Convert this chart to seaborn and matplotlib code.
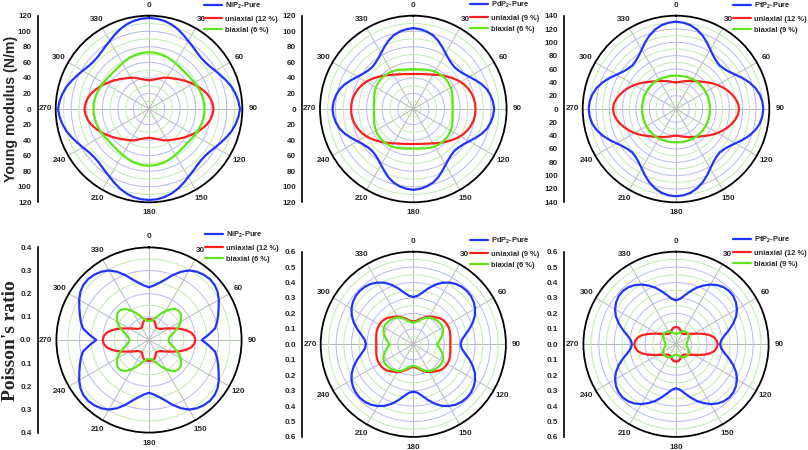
import numpy as np
import pandas as pd
import matplotlib
matplotlib.use("Agg")
import matplotlib.pyplot as plt
import seaborn as sns
from matplotlib.ticker import MultipleLocator, FixedLocator, FuncFormatter

# ---------------- data ----------------
# angles of one quadrant (deg); curves are mirror-symmetric about 0-180 and 90-270
ANG = [0, 5, 10, 15, 20, 25, 30, 35, 40, 45, 50, 55, 60, 65, 70, 75, 80, 85, 90]

# Young modulus (N/m)
NIP2_E_PURE = [117, 116.5, 115, 112.5, 109, 105, 101, 98, 95.5, 94, 94, 95.5, 98.5, 102, 106, 110, 113, 115.5, 117]
NIP2_E_UNI = [37, 37.5, 38.5, 40, 42, 44.5, 46.5, 48.5, 51, 54, 57.5, 61, 65, 69, 73, 77, 80, 82, 83]
NIP2_E_BI = [73, 72.8, 72.3, 71.5, 70.5, 69.3, 68, 67, 66.3, 66, 66.2, 66.8, 67.6, 68.5, 69.5, 70.3, 71, 71.4, 71.5]

PDP2_E_PURE = [104, 103, 101, 98, 93.5, 88, 83, 79, 76.5, 75.5, 76.5, 79, 83, 88, 93.5, 98, 101, 103, 104]
PDP2_E_UNI = [45, 45.2, 45.7, 46.5, 47.5, 49, 51, 53.5, 56.5, 59.5, 63, 66.5, 70, 73, 75.5, 77.5, 79, 79.8, 80]
PDP2_E_BI = [51, 51.2, 51.7, 52.5, 53.5, 54.6, 55.5, 56.2, 56.6, 56.8, 56.6, 56.2, 55.5, 54.5, 53.4, 52.3, 51.4, 50.9, 50.7]

PTP2_E_PURE = [131, 130, 127.5, 123, 117, 110, 103, 97.5, 94, 92.5, 94, 97.5, 103, 110, 117, 123, 127.5, 130, 131]
PTP2_E_UNI = [40, 40.3, 41.5, 43, 44.5, 46.5, 48.5, 51, 54, 57.5, 62, 67, 72, 77, 82, 86.5, 90.5, 93.5, 94.5]
PTP2_E_BI = [50, 50, 50.2, 50.4, 50.7, 51, 51.3, 51.5, 51.6, 51.6, 51.6, 51.5, 51.4, 51.3, 51.2, 51.1, 51, 51, 51]

# Poisson's ratio
NIP2_V_PURE = [0.228, 0.236, 0.25, 0.27, 0.298, 0.325, 0.347, 0.36, 0.368, 0.372, 0.37, 0.362, 0.348, 0.332, 0.318, 0.305, 0.29, 0.258, 0.228]
NIP2_V_UNI = [0.09, 0.09, 0.088, 0.085, 0.078, 0.068, 0.062, 0.062, 0.064, 0.068, 0.075, 0.087, 0.1, 0.118, 0.142, 0.165, 0.185, 0.196, 0.2]
NIP2_V_BI = [0.082, 0.083, 0.088, 0.097, 0.11, 0.127, 0.145, 0.162, 0.175, 0.18, 0.178, 0.17, 0.158, 0.142, 0.124, 0.107, 0.094, 0.087, 0.085]

PDP2_V_PURE = [0.307, 0.315, 0.34, 0.375, 0.41, 0.44, 0.462, 0.478, 0.487, 0.49, 0.487, 0.478, 0.462, 0.44, 0.41, 0.375, 0.34, 0.315, 0.307]
PDP2_V_UNI = [0.147, 0.15, 0.158, 0.17, 0.182, 0.196, 0.208, 0.218, 0.228, 0.24, 0.248, 0.252, 0.254, 0.254, 0.252, 0.248, 0.244, 0.241, 0.24]
PDP2_V_BI = [0.14, 0.143, 0.15, 0.162, 0.176, 0.19, 0.2, 0.208, 0.213, 0.217, 0.22, 0.221, 0.219, 0.213, 0.203, 0.19, 0.176, 0.164, 0.155]

PTP2_V_PURE = [0.285, 0.295, 0.322, 0.355, 0.39, 0.42, 0.447, 0.468, 0.482, 0.488, 0.485, 0.474, 0.456, 0.43, 0.395, 0.355, 0.318, 0.294, 0.285]
PTP2_V_UNI = [0.112, 0.111, 0.108, 0.1, 0.09, 0.083, 0.082, 0.083, 0.087, 0.095, 0.105, 0.119, 0.138, 0.163, 0.195, 0.228, 0.252, 0.265, 0.27]
PTP2_V_BI = [0.068, 0.069, 0.072, 0.077, 0.084, 0.09, 0.096, 0.1, 0.103, 0.104, 0.103, 0.1, 0.096, 0.09, 0.084, 0.077, 0.072, 0.069, 0.068]

THETA_LABELS = ["0", "30", "60", "90", "120", "150", "180", "210", "240", "270", "300", "330"]

LEG_NI = ["NiP$_\\mathbf{2}$-Pure", "uniaxial (12 %)", "biaxial (6 %)"]
LEG_PD = ["PdP$_\\mathbf{2}$-Pure", "uniaxial (9 %)", "biaxial (6 %)"]
LEG_PT = ["PtP$_\\mathbf{2}$-Pure", "uniaxial (12 %)", "biaxial (9 %)"]

YLABEL_TOP = "Young modulus (N/m)"
YLABEL_BOT = "Poisson's ratio"

# ---------------- style ----------------
sns.set_style("white")
plt.rcParams["font.family"] = ["Liberation Sans", "DejaVu Sans"]
plt.rcParams["font.weight"] = "bold"
plt.rcParams["mathtext.fontset"] = "custom"
plt.rcParams["mathtext.rm"] = "Liberation Sans:bold"
plt.rcParams["mathtext.bf"] = "Liberation Sans:bold"
plt.rcParams["axes.unicode_minus"] = False

COLORS = ["#1f35ff", "#ff1f1f", "#5ee61a"]
GRID_MAJOR = "#b7b9f2"
GRID_MINOR = "#bfeab3"
GRID_THETA = "#b8b8b8"

W, H = 808, 450
fig = plt.figure(figsize=(W / 100, H / 100), dpi=100)
fig.patch.set_facecolor("white")


def full_circle(q):
    q = np.asarray(q, float)
    a = np.asarray(ANG, float)
    th = np.concatenate([a, 180 - a[::-1][1:], 180 + a[1:], 360 - a[::-1][1:]])
    r = np.concatenate([q, q[::-1][1:], q[1:], q[::-1][1:]])
    return np.deg2rad(th), r


panels = [
    dict(c=(149, 109), rad=93.3, R=120, major=20, minor=10, sx=37.7, fmt="{:.0f}",
         series=[NIP2_E_PURE, NIP2_E_UNI, NIP2_E_BI], leg=LEG_NI, lp=(204, 1)),
    dict(c=(413.3, 109), rad=93.3, R=120, major=20, minor=10, sx=302.3, fmt="{:.0f}",
         series=[PDP2_E_PURE, PDP2_E_UNI, PDP2_E_BI], leg=LEG_PD, lp=(470, 0)),
    dict(c=(676, 109), rad=93.3, R=140, major=20, minor=10, sx=564, fmt="{:.0f}",
         series=[PTP2_E_PURE, PTP2_E_UNI, PTP2_E_BI], leg=LEG_PT, lp=(733, 1)),
    dict(c=(149, 340), rad=92.6, R=0.4, major=0.1, minor=0.05, sx=37.7, fmt="{:.1f}",
         series=[NIP2_V_PURE, NIP2_V_UNI, NIP2_V_BI], leg=LEG_NI, lp=(205, 230)),
    dict(c=(413.3, 344.3), rad=92.6, R=0.6, major=0.1, minor=0.05, sx=302.3, fmt="{:.1f}",
         series=[PDP2_V_PURE, PDP2_V_UNI, PDP2_V_BI], leg=LEG_PD, lp=(470, 236)),
    dict(c=(676, 344.3), rad=92.6, R=0.6, major=0.1, minor=0.05, sx=564, fmt="{:.1f}",
         series=[PTP2_V_PURE, PTP2_V_UNI, PTP2_V_BI], leg=LEG_PT, lp=(733, 235)),
]

FS = 5.8
LFS = 5.4

for p in panels:
    cx, cy = p["c"]
    rad = p["rad"]
    R = p["R"]
    rect = [(cx - rad) / W, 1 - (cy + rad) / H, 2 * rad / W, 2 * rad / H]
    ax = fig.add_axes(rect, projection="polar")
    ax.set_theta_zero_location("N")
    ax.set_theta_direction(-1)

    handles = []
    for vals, col, lab in zip(p["series"], COLORS, p["leg"]):
        th, r = full_circle(vals)
        df = pd.DataFrame({"theta": th, "r": r})
        sns.lineplot(data=df, x="theta", y="r", ax=ax, color=col, lw=1.6,
                     sort=False, estimator=None, legend=False)
        handles.append(ax.get_lines()[-1])
    ax.set_xlabel("")
    ax.set_ylabel("")
    ax.set_ylim(0, R)

    majors = np.arange(p["major"], R - 1e-9, p["major"])
    minors = np.arange(p["minor"], R - 1e-9, p["major"])
    ax.yaxis.set_major_locator(FixedLocator(majors))
    ax.yaxis.set_minor_locator(FixedLocator(minors))
    ax.set_yticklabels([])
    ax.tick_params(axis="y", which="both", length=0)
    ax.yaxis.grid(True, which="major", color=GRID_MAJOR, lw=0.7)
    ax.yaxis.grid(True, which="minor", color=GRID_MINOR, lw=0.7)

    ax.set_xticks(np.deg2rad(np.arange(0, 360, 30)))
    ax.set_xticklabels(THETA_LABELS, fontsize=FS, fontweight="bold")
    ax.tick_params(axis="x", length=0, pad=0.6)
    ax.xaxis.grid(True, color=GRID_THETA, lw=0.7)
    ax.spines["polar"].set_color("black")
    ax.spines["polar"].set_linewidth(1.3)
    for ln in handles:
        ln.set_zorder(3)

    lx, ly = p["lp"]
    ax.legend(handles, p["leg"], loc="upper left",
              bbox_to_anchor=(lx / W, 1 - ly / H), bbox_transform=fig.transFigure,
              frameon=False, fontsize=LFS, handlelength=2.4, handletextpad=0.4,
              labelspacing=0.55, borderpad=0, borderaxespad=0)

    # linear radial scale on the left
    lax = fig.add_axes([p["sx"] / W, 1 - (cy + rad) / H, 0.0005, 2 * rad / H])
    lax.set_facecolor("none")
    for s in ["top", "right", "bottom"]:
        lax.spines[s].set_visible(False)
    lax.spines["left"].set_color("black")
    lax.spines["left"].set_linewidth(1.2)
    lax.set_xticks([])
    lax.set_ylim(-R, R)
    lax.yaxis.set_major_locator(MultipleLocator(p["major"]))
    lax.yaxis.set_minor_locator(MultipleLocator(p["minor"]))
    fmt = p["fmt"]
    lax.yaxis.set_major_formatter(FuncFormatter(lambda v, pos, f=fmt: f.format(abs(round(v, 6)))))
    lax.tick_params(axis="y", which="major", direction="out", length=3.2, width=0.9,
                    labelsize=FS, pad=1.2, color="black")
    lax.tick_params(axis="y", which="minor", direction="out", length=1.8, width=0.7, color="black")
    for t in lax.get_yticklabels():
        t.set_fontweight("bold")

fig.text(11 / W, 1 - 109 / H, YLABEL_TOP, rotation=90, ha="center", va="center",
         fontsize=10.2, fontweight="bold", family=["Liberation Sans", "DejaVu Sans"])
fig.text(10.5 / W, 1 - 341 / H, YLABEL_BOT, rotation=90, ha="center", va="center",
         fontsize=14, fontweight="bold", family=["Liberation Serif", "DejaVu Serif"])

fig.savefig("out.png", dpi=100, facecolor="white")
